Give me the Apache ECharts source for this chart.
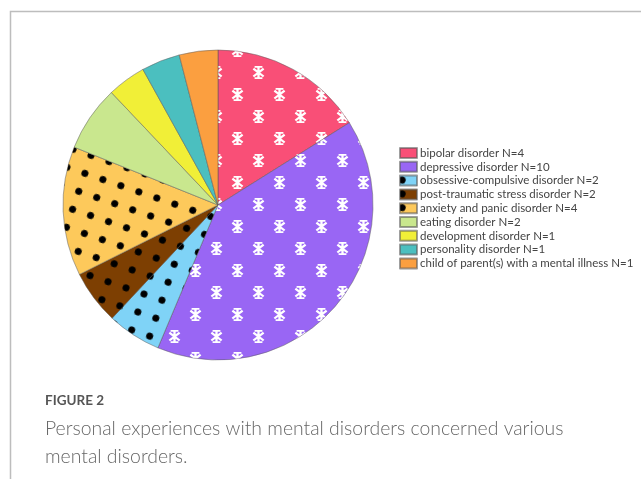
<!DOCTYPE html>
<html>
<head>
<meta charset="utf-8">
<style>
  html, body { margin: 0; padding: 0; background: #fff; }
  #chart { width: 641px; height: 479px; }
</style>
<script src="https://cdn.jsdelivr.net/npm/echarts@6/dist/echarts.min.js"></script>
</head>
<body>
<div id="chart"></div>
<script>
  // slices, in drawing order (clockwise from 12 o'clock)
  const categories = [
    'bipolar disorder N=4',
    'depressive disorder N=10',
    'obsessive-compulsive disorder N=2',
    'post-traumatic stress disorder N=2',
    'anxiety and panic disorder N=4',
    'eating disorder N=2',
    'development disorder N=1',
    'personality disorder N=1',
    'child of parent(s) with a mental illness N=1'
  ]
  // slice sizes (angles)
  const values = [4, 10, 1.4, 1.4, 3.35, 1.7, 1, 1, 1]
  const colors = ['#f94f77', '#9966f4', '#7fd3f7', '#7d3f02', '#fdc95b', '#c9e78e', '#f1ef37', '#4bbfbf', '#fb9f40']
  // which pattern sits on each slice
  const patterns = ['star', 'star', 'dot', 'dot', 'dot', null, null, null, null]

  const starPath = 'path://M4.1 0h1.8v10h-1.8z M2 0h6v1.3h-6z M2 8.7h6v1.3h-6z ' +
    'M0.5 2.6l1.1-1.2l7.9 6.1l-1.1 1.2z M8.4 1.4l1.1 1.2l-7.9 6.1l-1.1-1.2z'

  function decalFor (p) {
    if (p === 'star') {
      return {
        symbol: starPath,
        color: '#ffffff',
        symbolSize: 1,
        dashArrayX: [[13, 29], [0, 21, 13, 8]],
        dashArrayY: [13, 9],
        rotation: 0
      }
    }
    if (p === 'dot') {
      return {
        symbol: 'circle',
        color: '#000000',
        symbolSize: 1,
        dashArrayX: [6.3, 11.2],
        dashArrayY: [6.3, 11.2],
        rotation: 0.33
      }
    }
    return { symbol: 'none' }
  }

  const pieData = categories.map((name, i) => ({
    name: name,
    value: values[i],
    itemStyle: { color: colors[i], decal: decalFor(patterns[i]) }
  }))

  const chart = echarts.init(document.getElementById('chart'))
  const option = {
    animation: false,
    aria: { enabled: true, decal: { show: true } },
    legend: {
      orient: 'vertical',
      left: 399,
      top: 147,
      padding: 0,
      itemWidth: 17,
      itemHeight: 10,
      itemGap: 1.8,
      icon: 'rect',
      textStyle: { fontFamily: 'Lato', fontSize: 11.5, color: '#444', padding: [0, 0, 0, -2] },
      data: categories
    },
    series: [{
      type: 'pie',
      center: [218, 205],
      radius: 155,
      startAngle: 90,
      clockwise: true,
      label: { show: false },
      labelLine: { show: false },
      emphasis: { disabled: true },
      itemStyle: { borderColor: 'rgba(90,90,90,0.35)', borderWidth: 0.8 },
      data: pieData
    }],
    graphic: [
      {
        type: 'polyline',
        shape: { points: [[10.5, 479], [10.5, 11.5], [641, 11.5]] },
        style: { stroke: '#bdbdbd', lineWidth: 1.5, fill: null }
      },
      {
        type: 'text', left: 45, top: 394,
        style: { text: 'FIGURE 2', font: '700 13.5px Lato', fill: '#555' }
      },
      {
        type: 'text', left: 45, top: 415,
        style: {
          text: 'Personal experiences with mental disorders concerned various\nmental disorders.',
          font: '300 19.4px Lato', fill: '#666', lineHeight: 27.5
        }
      }
    ]
  }
  chart.setOption(option)
</script>
</body>
</html>
